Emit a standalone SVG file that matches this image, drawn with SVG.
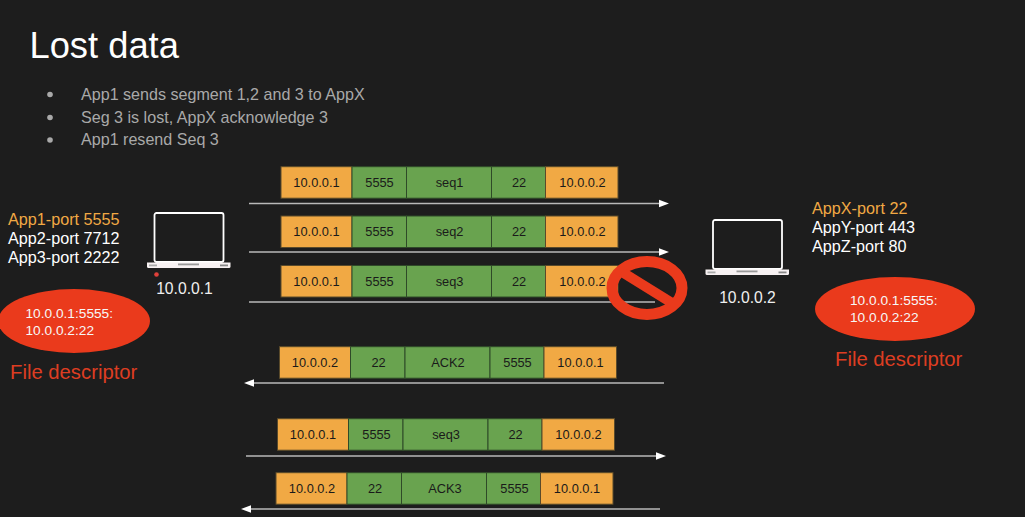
<svg xmlns="http://www.w3.org/2000/svg" width="1025" height="517" viewBox="0 0 1025 517">
<style>
text{font-family:"Liberation Sans",Arial,sans-serif}
.o{fill:#f1a944;stroke:#5a4a2a;stroke-width:1}
.g{fill:#69a34f;stroke:#2f4a28;stroke-width:1}
.c{font-size:12.8px;fill:#1a1a1a;text-anchor:middle}
.w{font-size:16.2px;fill:#fff}
.y{font-size:16.2px;fill:#f1a944}
.b{font-size:16.1px;fill:#a9a9a9}
.l{font-size:15.7px;fill:#efefef;text-anchor:middle}
.e{fill:#ea3a1c}
.s{font-size:13.7px;fill:#f7f7f7}
.f{font-size:20.3px;fill:#dd3d22}
.a{stroke:#b9b9b9;stroke-width:1.6;fill:none}
.h{fill:#fff}
.p{fill:none;stroke:#fff;stroke-width:1.8}
</style>
<defs>
<g id="laptop">
<rect class="p" x="8.500" y="0" width="69" height="49" rx="2"/>
<path d="M1 49.500H84.500V53.500Q84.500 55 83 55H2.500Q1 55 1 53.500Z" fill="#f7f1f2"/>
<rect x="32" y="50.500" width="21" height="1.800" fill="#999"/>
<rect x="3" y="51.500" width="8" height="1.800" fill="#aaa"/>
<rect x="74" y="51.500" width="8" height="1.800" fill="#888"/>
</g>
<g id="seg">
<rect class="o" x="0" y="0" width="71" height="31.500"/>
<rect class="g" x="71" y="0" width="54.500" height="31.500"/>
<rect class="g" x="125.500" y="0" width="85" height="31.500"/>
<rect class="g" x="210.500" y="0" width="54" height="31.500"/>
<rect class="o" x="264.500" y="0" width="72.500" height="31.500"/>
</g>
<path id="rh" d="M0 0L-10 -3.800V3.800Z" class="h"/>
<path id="lh" d="M0 0L10 -3.800V3.800Z" class="h"/>
</defs>
<rect width="1025" height="517" fill="#1d1d1d"/>
<text x="29.500" y="58" fill="#fff" style="font-size:36.300px">Lost data</text>
<g id="bullets">
<circle cx="50" cy="94.500" r="2.800" fill="#a9a9a9"/>
<circle cx="50" cy="117.500" r="2.800" fill="#a9a9a9"/>
<circle cx="50" cy="140" r="2.800" fill="#a9a9a9"/>
<text class="b" x="81" y="100">App1 sends segment 1,2 and 3 to AppX</text>
<text class="b" x="81" y="123">Seg 3 is lost, AppX acknowledge 3</text>
<text class="b" x="81" y="145">App1 resend Seq 3</text>
</g>
<g id="connectors">
<path class="a" d="M249 203.500H660"/><use href="#rh" x="669" y="203.500"/>
<path class="a" d="M249 252H660"/><use href="#rh" x="669" y="252"/>
<path class="a" d="M249 302H655"/>
<path class="a" d="M664 383H253"/><use href="#lh" x="244" y="383"/>
<path class="a" d="M246 456H657"/><use href="#rh" x="666" y="456"/>
<path class="a" d="M660 509H250"/><use href="#lh" x="241" y="509"/>
</g>
<g id="seq1"><use href="#seg" x="281" y="166.700"/>
<text class="c" x="316.500" y="187">10.0.0.1</text><text class="c" x="379.500" y="187">5555</text><text class="c" x="449.500" y="187">seq1</text><text class="c" x="519" y="187">22</text><text class="c" x="582.500" y="187">10.0.0.2</text></g>
<g id="seq2"><use href="#seg" x="281" y="216"/>
<text class="c" x="316.500" y="236">10.0.0.1</text><text class="c" x="379.500" y="236">5555</text><text class="c" x="449.500" y="236">seq2</text><text class="c" x="519" y="236">22</text><text class="c" x="582.500" y="236">10.0.0.2</text></g>
<g id="seq3"><use href="#seg" x="281" y="265.500"/>
<text class="c" x="316.500" y="286">10.0.0.1</text><text class="c" x="379.500" y="286">5555</text><text class="c" x="449.500" y="286">seq3</text><text class="c" x="519" y="286">22</text><text class="c" x="582.500" y="286">10.0.0.2</text></g>
<g id="ack2"><use href="#seg" x="279.500" y="346.700"/>
<text class="c" x="315" y="367">10.0.0.2</text><text class="c" x="378.500" y="367">22</text><text class="c" x="448" y="367">ACK2</text><text class="c" x="517.500" y="367">5555</text><text class="c" x="580.500" y="367">10.0.0.1</text></g>
<g id="seq3b"><use href="#seg" x="277.500" y="418.700"/>
<text class="c" x="313" y="439">10.0.0.1</text><text class="c" x="376.500" y="439">5555</text><text class="c" x="446" y="439">seq3</text><text class="c" x="515.500" y="439">22</text><text class="c" x="578.500" y="439">10.0.0.2</text></g>
<g id="ack3"><use href="#seg" x="276" y="472.700"/>
<text class="c" x="312" y="493">10.0.0.2</text><text class="c" x="375" y="493">22</text><text class="c" x="445" y="493">ACK3</text><text class="c" x="514.500" y="493">5555</text><text class="c" x="577" y="493">10.0.0.1</text></g>
<g id="no-entry">
<ellipse cx="647" cy="288" rx="35" ry="26.500" fill="none" stroke="#ea3a1c" stroke-width="11"/>
<path d="M622 272L672 303" stroke="#ea3a1c" stroke-width="10" fill="none"/>
</g>
<g id="host1">
<use href="#laptop" x="146" y="213"/>
<circle cx="156.500" cy="274.500" r="2.300" fill="#e0403a"/>
<text class="l" x="184.500" y="294">10.0.0.1</text>
<text class="y" x="8" y="225">App1-port 5555</text>
<text class="w" x="8" y="244">App2-port 7712</text>
<text class="w" x="8" y="263">App3-port 2222</text>
</g>
<g id="fd1">
<ellipse class="e" cx="74" cy="321" rx="76" ry="32"/>
<text class="s" x="25.500" y="318">10.0.0.1:5555:</text>
<text class="s" x="25.500" y="335">10.0.0.2:22</text>
<text class="f" x="10" y="379">File descriptor</text>
</g>
<g id="host2">
<use href="#laptop" x="704.500" y="220"/>
<text class="l" x="747.500" y="303">10.0.0.2</text>
<text class="y" x="812" y="213.500">AppX-port 22</text>
<text class="w" x="812" y="232.500">AppY-port 443</text>
<text class="w" x="812" y="251.500">AppZ-port 80</text>
</g>
<g id="fd2">
<ellipse class="e" cx="895" cy="309" rx="80" ry="32"/>
<text class="s" x="850" y="305">10.0.0.1:5555:</text>
<text class="s" x="850" y="322">10.0.0.2:22</text>
<text class="f" x="835" y="366">File descriptor</text>
</g>
</svg>
